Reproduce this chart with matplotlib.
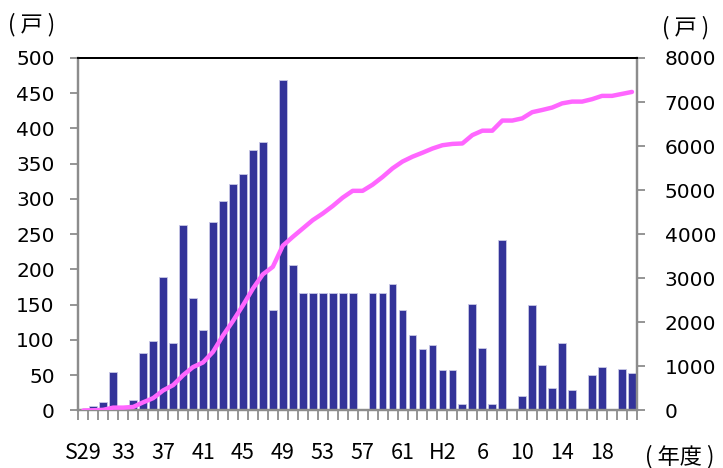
import numpy as np
import matplotlib
matplotlib.use("Agg")
import matplotlib.pyplot as plt
from matplotlib.ticker import FixedLocator

plt.rcParams['font.family'] = ['DejaVu Sans', 'Noto Sans CJK JP']

# Annual households (bars, left axis) — S29 .. H21
households = [0, 6, 12, 55, 0, 15, 82, 99, 190, 96,
              263, 160, 114, 268, 297, 321, 335, 370, 381, 143,
              469, 207, 166, 166, 166, 166, 166, 166, 0, 166,
              166, 180, 143, 107, 87, 93, 58, 58, 9, 151,
              88, 9, 242, 0, 20, 149, 65, 32, 96, 29,
              0, 50, 61, 0, 59, 53]

# Cumulative households (line, right axis)
cumulative = [0, 5, 15, 65, 65, 80, 185, 280, 455, 575,
              800, 985, 1090, 1330, 1700, 2030, 2385, 2765, 3090, 3260,
              3740, 3940, 4130, 4320, 4470, 4640, 4830, 4985, 4985, 5125,
              5300, 5495, 5650, 5760, 5850, 5945, 6020, 6050, 6060, 6250,
              6350, 6350, 6580, 6580, 6630, 6770, 6820, 6875, 6970, 7010,
              7010, 7065, 7140, 7140, 7185, 7230]

tick_labels = ["S29", "33", "37", "41", "45", "49", "53", "57", "61",
               "H2", "6", "10", "14", "18"]

x = np.arange(len(households))

fig = plt.figure(figsize=(7.23, 4.68), dpi=100)
ax = fig.add_axes([0.1083, 0.1229, 0.7727, 0.7532])
ax2 = ax.twinx()

ax.bar(x, households, width=0.78, color='#333399', edgecolor='#c9c9e6',
       linewidth=0.6, zorder=2)
ax2.plot(x, cumulative, color='#ff66ff', linewidth=3.2, solid_capstyle='round',
         solid_joinstyle='round', zorder=3)

ax.set_xlim(-0.5, len(households) - 0.5)
ax.set_ylim(0, 500)
ax2.set_ylim(0, 8000)
ax.set_yticks(np.arange(0, 501, 50))
ax2.set_yticks(np.arange(0, 8001, 1000))

gray = '#8c8c8c'
for a in (ax, ax2):
    for s in ('left', 'right', 'bottom'):
        a.spines[s].set_color(gray)
        a.spines[s].set_linewidth(1.6)
    a.spines['top'].set_color('black')
    a.spines['top'].set_linewidth(1.4)

ax.tick_params(axis='y', direction='out', length=6, width=1.3, color=gray,
               labelsize=14.5, pad=11, labelcolor='black')
ax2.tick_params(axis='y', direction='out', length=6, width=1.3, color=gray,
                labelsize=14.5, pad=14, labelcolor='black')

# category boundary ticks
ax.xaxis.set_minor_locator(FixedLocator(np.arange(-0.5, len(households), 1)))
ax.set_xticks(x[::4])
ax.set_xticklabels(tick_labels, family=['Noto Sans CJK JP', 'DejaVu Sans'],
                   fontsize=15.5)
ax.tick_params(axis='x', which='major', length=0, pad=23)
ax.tick_params(axis='x', which='minor', direction='out', length=7, width=1.3,
               color=gray)

fig.text(0.043, 0.947, '( 戸 )', family=['Noto Sans CJK JP'], fontsize=16,
         ha='center', va='center')
fig.text(0.948, 0.942, '( 戸 )', family=['Noto Sans CJK JP'], fontsize=16,
         ha='center', va='center')
fig.text(0.940, 0.024, '( 年度 )', family=['Noto Sans CJK JP'], fontsize=16,
         ha='center', va='center')

fig.savefig('out.png', dpi=100)
